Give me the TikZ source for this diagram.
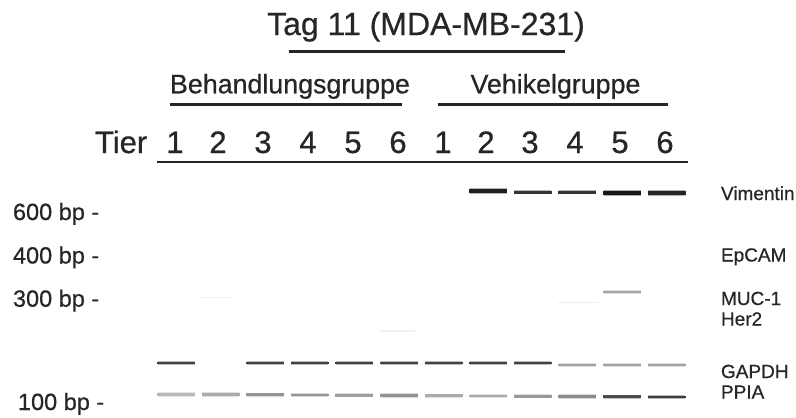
\documentclass[tikz,border=0pt]{standalone}
\usepackage{fontspec}
\setmainfont{Liberation Sans}
\newfontfamily\labfont[FakeBold=0.6]{Liberation Sans}
\definecolor{ink}{HTML}{262626}
\newcommand\gelband[4]{%
  \pgfmathsetmacro\bx{157+44.6*(#1-1)}%
  \draw[line width=#4+1.6pt, draw=#3, opacity=0.35] (\bx+0.5,#2) -- ++(37,0);
  \draw[line width=#4, draw=#3] (\bx,#2) -- ++(38,0);}
\begin{document}
\begin{tikzpicture}[x=1pt,y=-1pt,
  lbl/.style={inner sep=0pt, outer sep=0pt, text=ink},
  uline/.style={draw=ink, line width=#1},
  uline/.default=3pt]
\useasboundingbox[fill=white] (0,0) rectangle (796,418);

% title
\node[lbl, anchor=base, font=\labfont\fontsize{32}{35}\selectfont] (title) at (426,35) {Tag 11 (MDA-MB-231)};
\draw[uline] (289,51.5) -- (565,51.5);

% groups
\node[lbl, anchor=base, font=\labfont\fontsize{26.8}{29}\selectfont] (treat) at (290,93.3) {Behandlungsgruppe};
\node[lbl, anchor=base, font=\labfont\fontsize{26.8}{29}\selectfont] (vehic) at (555.5,93.3) {Vehikelgruppe};
\draw[uline] (170,104.3) -- (402,104.3);
\draw[uline] (438,104.3) -- (668,104.3);

% animals
\node[lbl, anchor=base west, font=\labfont\fontsize{31}{33}\selectfont] (tier) at (95,153) {Tier};
\foreach \x/\n [count=\i] in {175/1,218/2,263/3,308/4,353/5,398/6,443/1,486/2,530/3,575/4,620/5,665/6}
  \node[lbl, anchor=base, font=\labfont\fontsize{31}{33}\selectfont] (num\i) at (\x,153) {\n};
\draw[uline=2.6pt] (157,162) -- (688,162);

% size markers
\node[lbl, anchor=base west, font=\labfont\fontsize{23.5}{26}\selectfont] (bp600) at (13,220) {600 bp -};
\node[lbl, anchor=base west, font=\labfont\fontsize{23.5}{26}\selectfont] (bp400) at (13,263.5) {400 bp -};
\node[lbl, anchor=base west, font=\labfont\fontsize{23.5}{26}\selectfont] (bp300) at (13,306.7) {300 bp -};
\node[lbl, anchor=base west, font=\labfont\fontsize{23.5}{26}\selectfont] (bp100) at (18,410) {100 bp -};

% gene labels
\node[lbl, anchor=base west, font=\labfont\fontsize{19}{21}\selectfont] (vim) at (721,200) {Vimentin};
\node[lbl, anchor=base west, font=\labfont\fontsize{19}{21}\selectfont] (epcam) at (721,261.5) {EpCAM};
\node[lbl, anchor=base west, font=\labfont\fontsize{19}{21}\selectfont] (muc) at (721,305) {MUC-1};
\node[lbl, anchor=base west, font=\labfont\fontsize{19}{21}\selectfont] (her) at (721,325.5) {Her2};
\node[lbl, anchor=base west, font=\labfont\fontsize{19}{21}\selectfont] (gapdh) at (721,378) {GAPDH};
\node[lbl, anchor=base west, font=\labfont\fontsize{19}{21}\selectfont] (ppia) at (721,398.5) {PPIA};

% Vimentin bands
\gelband{8}{191}{black!88}{3.5pt}
\gelband{9}{192}{black!80}{3pt}
\gelband{10}{192}{black!80}{3pt}
\gelband{11}{193}{black!90}{4pt}
\gelband{12}{193}{black!86}{3.5pt}

% MUC-1 / faint
\gelband{11}{292}{black!35}{2.2pt}
\draw[line width=1.2pt, draw=black!7] (558,302.7) -- (599,302.7);
\draw[line width=1.2pt, draw=black!6] (198,297.7) -- (233,297.7);
\draw[line width=1.2pt, draw=black!5] (380,331) -- (415,331);

% GAPDH
\foreach \l in {1,3,4,5,6,7,8,9} {\gelband{\l}{363.3}{black!74}{2.2pt}}
\foreach \l in {10,11,12} {\gelband{\l}{365}{black!36}{2pt}}

% PPIA
\foreach \l/\c in {1/28,2/33,3/42,4/42,5/38,6/42,7/33,8/33,9/40,10/45,11/70,12/76} {
  \pgfmathsetmacro\py{394.3+0.24*(\l-1)}
  \gelband{\l}{\py}{black!\c}{2.8pt}}
\end{tikzpicture}
\end{document}
